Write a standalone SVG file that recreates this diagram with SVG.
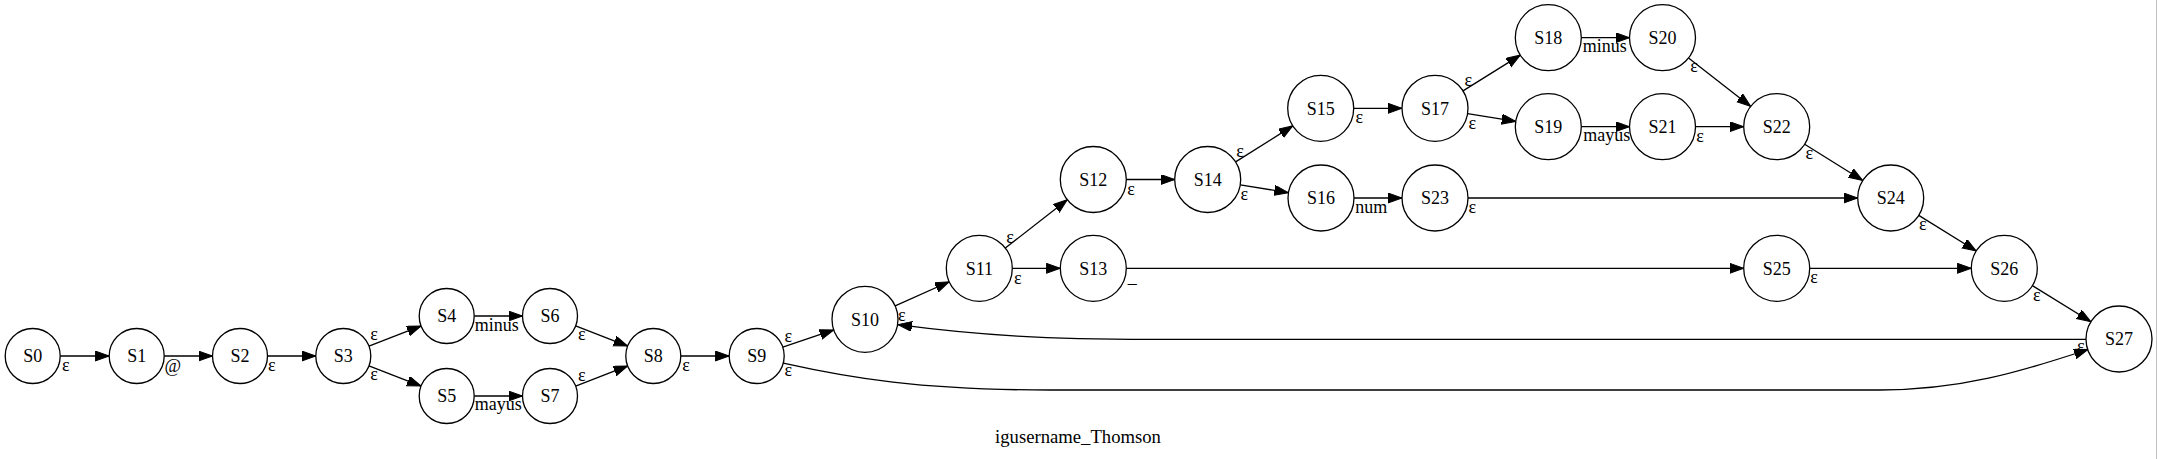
<svg xmlns="http://www.w3.org/2000/svg" width="2157" height="459" viewBox="0 0 2157 459">
<style>
.n circle{fill:#fff;stroke:#000;stroke-width:1.3}
.n text{font-family:"Liberation Serif","Times New Roman",serif;font-size:18px;text-anchor:middle;fill:#000}
.e path{fill:none;stroke:#000;stroke-width:1.3;marker-end:url(#ah)}
.lbl text{font-family:"Liberation Serif","Times New Roman",serif;font-size:18px;text-anchor:middle;fill:#000}
.title{font-family:"Liberation Serif","Times New Roman",serif;font-size:18.67px;text-anchor:middle;fill:#000}
</style>
<defs>
<marker id="ah" markerUnits="userSpaceOnUse" markerWidth="15" markerHeight="11" refX="14" refY="5" orient="auto" viewBox="0 0 15 11">
<path d="M0,0 L14,5 L0,10 z" fill="#000" stroke="#000" stroke-width="1"/>
</marker>
</defs>
<rect x="0" y="0" width="2157" height="459" fill="#fff"/>
<line x1="2156.5" y1="0" x2="2156.5" y2="459" stroke="#c0c0c0" stroke-width="1"/>

<g id="edges" class="e">
<path d="M60.2,356 L109.2,356"/>
<path d="M164.2,356 L212.5,356"/>
<path d="M267.5,356 L315.8,356"/>
<path d="M368.95,346.08 L421.05,325.92"/>
<path d="M368.95,365.92 L421.05,386.08"/>
<path d="M474.2,316 L522.5,316"/>
<path d="M474.2,396 L522.5,396"/>
<path d="M575.65,325.93 L627.65,346.07"/>
<path d="M575.65,386.07 L627.65,365.93"/>
<path d="M680.8,356 L729.2,356"/>
<path d="M782.75,347.17 L833.75,329.89"/>
<path d="M895.14,305.85 L949.16,281.75"/>
<path d="M1005.33,248.02 L1067.27,199.78"/>
<path d="M1012.3,268.3 L1060.3,268.3"/>
<path d="M1126.3,179.5 L1174.7,179.5"/>
<path d="M1235.62,161.91 L1292.78,125.89"/>
<path d="M1240.27,184.82 L1288.43,192.68"/>
<path d="M1353.7,108.3 L1402,108.3"/>
<path d="M1463.01,90.85 L1520.29,55.15"/>
<path d="M1467.57,113.59 L1515.73,121.41"/>
<path d="M1581.3,37.7 L1629.5,37.7"/>
<path d="M1581.3,126.7 L1629.5,126.7"/>
<path d="M1688.53,57.99 L1750.67,106.41"/>
<path d="M1695.5,126.7 L1743.7,126.7"/>
<path d="M1804.68,144.2 L1862.72,180.5"/>
<path d="M1354,198 L1402,198"/>
<path d="M1468,198 L1857.7,198"/>
<path d="M1126.3,268.3 L1743.7,268.3"/>
<path d="M1809.7,268.3 L1971.3,268.3"/>
<path d="M1918.76,215.36 L1976.24,250.94"/>
<path d="M2032.39,285.62 L2090.91,321.68"/>
<path d="M2086,339.3 L1150,339.3 C1050,339.3 980,335.5 898,324.6"/>
<path d="M783.3,363.1 C850,378 920,390 1050,390 L1880,390 C1960,390 2020,372 2088,349.5"/>
</g>

<g id="edge-labels" class="lbl">
<text x="65.7" y="371">ε</text>
<text x="172.7" y="372">@</text>
<text x="271.7" y="370.7">ε</text>
<text x="374" y="340">ε</text>
<text x="374" y="380">ε</text>
<text x="496.7" y="330.5">minus</text>
<text x="498.3" y="410">mayus</text>
<text x="581.7" y="340">ε</text>
<text x="581.7" y="380.7">ε</text>
<text x="686" y="370.7">ε</text>
<text x="788.3" y="342.3">ε</text>
<text x="788.3" y="375.7">ε</text>
<text x="901.7" y="320.7">ε</text>
<text x="1010" y="243">ε</text>
<text x="1017.7" y="284">ε</text>
<text x="1132.3" y="283">_</text>
<text x="1131" y="194.7">ε</text>
<text x="1240" y="157">ε</text>
<text x="1244.3" y="200">ε</text>
<text x="1359.3" y="123.3">ε</text>
<text x="1468.3" y="85.7">ε</text>
<text x="1472.3" y="129">ε</text>
<text x="1604.7" y="52.2">minus</text>
<text x="1606.7" y="141.2">mayus</text>
<text x="1371.2" y="212.5">num</text>
<text x="1472.3" y="213.3">ε</text>
<text x="1694" y="72.3">ε</text>
<text x="1700" y="141.7">ε</text>
<text x="1809.3" y="159">ε</text>
<text x="1922.7" y="229.7">ε</text>
<text x="1814" y="283.3">ε</text>
<text x="2036.7" y="300.7">ε</text>
<text x="2080.7" y="352.3">ε</text>
</g>

<g id="S0" class="n"><circle cx="32.7" cy="356" r="27.5"/><text x="32.7" y="362.3">S0</text></g>
<g id="S1" class="n"><circle cx="136.7" cy="356" r="27.5"/><text x="136.7" y="362.3">S1</text></g>
<g id="S2" class="n"><circle cx="240" cy="356" r="27.5"/><text x="240" y="362.3">S2</text></g>
<g id="S3" class="n"><circle cx="343.3" cy="356" r="27.5"/><text x="343.3" y="362.3">S3</text></g>
<g id="S4" class="n"><circle cx="446.7" cy="316" r="27.5"/><text x="446.7" y="322.3">S4</text></g>
<g id="S5" class="n"><circle cx="446.7" cy="396" r="27.5"/><text x="446.7" y="402.3">S5</text></g>
<g id="S6" class="n"><circle cx="550" cy="316" r="27.5"/><text x="550" y="322.3">S6</text></g>
<g id="S7" class="n"><circle cx="550" cy="396" r="27.5"/><text x="550" y="402.3">S7</text></g>
<g id="S8" class="n"><circle cx="653.3" cy="356" r="27.5"/><text x="653.3" y="362.3">S8</text></g>
<g id="S9" class="n"><circle cx="756.7" cy="356" r="27.5"/><text x="756.7" y="362.3">S9</text></g>
<g id="S10" class="n"><circle cx="865" cy="319.3" r="33"/><text x="865" y="325.6">S10</text></g>
<g id="S11" class="n"><circle cx="979.3" cy="268.3" r="33"/><text x="979.3" y="274.6">S11</text></g>
<g id="S12" class="n"><circle cx="1093.3" cy="179.5" r="33"/><text x="1093.3" y="185.8">S12</text></g>
<g id="S13" class="n"><circle cx="1093.3" cy="268.3" r="33"/><text x="1093.3" y="274.6">S13</text></g>
<g id="S14" class="n"><circle cx="1207.7" cy="179.5" r="33"/><text x="1207.7" y="185.8">S14</text></g>
<g id="S15" class="n"><circle cx="1320.7" cy="108.3" r="33"/><text x="1320.7" y="114.6">S15</text></g>
<g id="S16" class="n"><circle cx="1321" cy="198" r="33"/><text x="1321" y="204.3">S16</text></g>
<g id="S17" class="n"><circle cx="1435" cy="108.3" r="33"/><text x="1435" y="114.6">S17</text></g>
<g id="S18" class="n"><circle cx="1548.3" cy="37.7" r="33"/><text x="1548.3" y="44">S18</text></g>
<g id="S19" class="n"><circle cx="1548.3" cy="126.7" r="33"/><text x="1548.3" y="133">S19</text></g>
<g id="S20" class="n"><circle cx="1662.5" cy="37.7" r="33"/><text x="1662.5" y="44">S20</text></g>
<g id="S21" class="n"><circle cx="1662.5" cy="126.7" r="33"/><text x="1662.5" y="133">S21</text></g>
<g id="S22" class="n"><circle cx="1776.7" cy="126.7" r="33"/><text x="1776.7" y="133">S22</text></g>
<g id="S23" class="n"><circle cx="1435" cy="198" r="33"/><text x="1435" y="204.3">S23</text></g>
<g id="S24" class="n"><circle cx="1890.7" cy="198" r="33"/><text x="1890.7" y="204.3">S24</text></g>
<g id="S25" class="n"><circle cx="1776.7" cy="268.3" r="33"/><text x="1776.7" y="274.6">S25</text></g>
<g id="S26" class="n"><circle cx="2004.3" cy="268.3" r="33"/><text x="2004.3" y="274.6">S26</text></g>
<g id="S27" class="n"><circle cx="2119" cy="339" r="33"/><text x="2119" y="345.3">S27</text></g>

<text class="title" x="1078" y="443">igusername_Thomson</text>
</svg>
